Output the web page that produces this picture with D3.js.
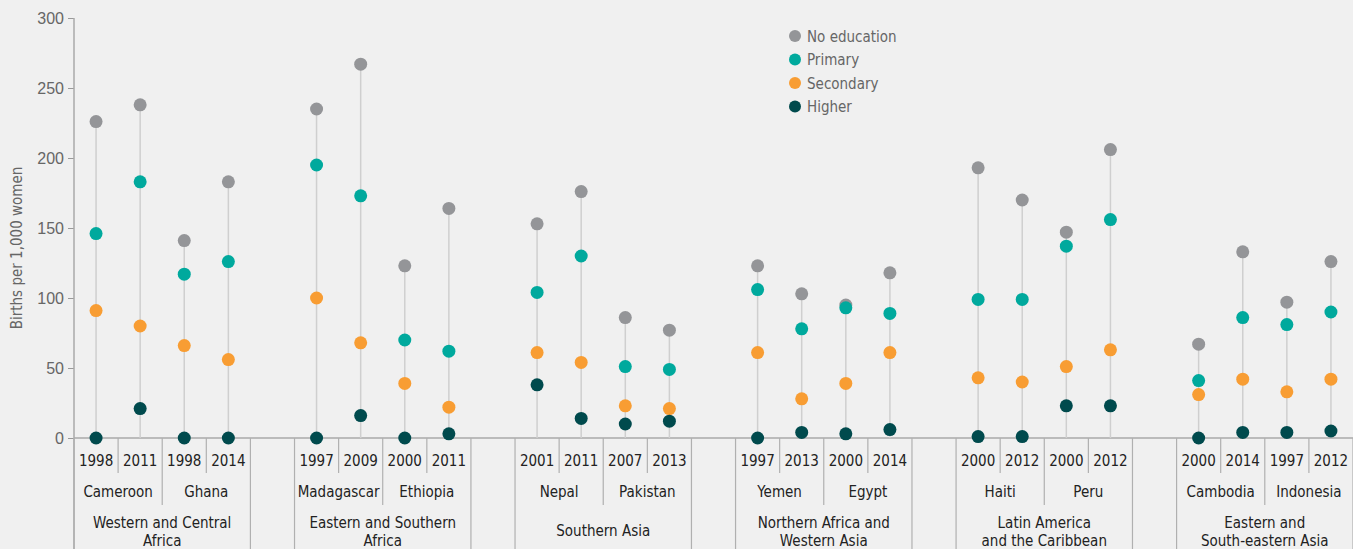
<!DOCTYPE html>
<html>
<head>
<meta charset="utf-8">
<script src="https://cdn.jsdelivr.net/npm/d3@7"></script>
<style>
  body { margin: 0; background: #f0f0f0; }
  svg { display: block; font-family: "DejaVu Sans Condensed", "Liberation Sans Narrow", "Roboto", sans-serif; }
</style>
</head>
<body>
<div id="chart"></div>
<script>
var width = 1353;
var height = 549;

// regions and the countries in each of them
var regions = ["Western and Central|Africa", "Eastern and Southern|Africa", "Southern Asia",
  "Northern Africa and|Western Asia", "Latin America|and the Caribbean", "Eastern and|South-eastern Asia"];
var countries = ["Cameroon", "Ghana", "Madagascar", "Ethiopia", "Nepal", "Pakistan",
  "Yemen", "Egypt", "Haiti", "Peru", "Cambodia", "Indonesia"];
var countryRegion = [0, 0, 1, 1, 2, 2, 3, 3, 4, 4, 5, 5];

// one survey per entry
var surveyCountry = [0, 0, 1, 1, 2, 2, 3, 3, 4, 4, 5, 5, 6, 6, 7, 7, 8, 8, 9, 9, 10, 10, 11, 11];
var surveyYear = ["1998", "2011", "1998", "2014", "1997", "2009", "2000", "2011", "2001", "2011", "2007", "2013",
  "1997", "2013", "2000", "2014", "2000", "2012", "2000", "2012", "2000", "2014", "1997", "2012"];

var noEducation = [226, 238, 141, 183, 235, 267, 123, 164, 153, 176, 86, 77,
  123, 103, 95, 118, 193, 170, 147, 206, 67, 133, 97, 126];
var primary = [146, 183, 117, 126, 195, 173, 70, 62, 104, 130, 51, 49,
  106, 78, 93, 89, 99, 99, 137, 156, 41, 86, 81, 90];
var secondary = [91, 80, 66, 56, 100, 68, 39, 22, 61, 54, 23, 21,
  61, 28, 39, 61, 43, 40, 51, 63, 31, 42, 33, 42];
var higher = [0, 21, 0, 0, 0, 16, 0, 3, 38, 14, 10, 12,
  0, 4, 3, 6, 1, 1, 23, 23, 0, 4, 4, 5];

var levels = ["No education", "Primary", "Secondary", "Higher"];
var levelValues = [noEducation, primary, secondary, higher];
var levelColors = ["#949598", "#00a99d", "#f89d33", "#004a4d"];

var yTicks = [0, 50, 100, 150, 200, 250, 300];

var margin = {top: 18, right: 0, bottom: 111, left: 74};
var plotBottom = height - margin.bottom;

// slots: four surveys per region and an empty slot between regions
var slots = [];
regions.forEach(function(r, ri) {
  surveyCountry.forEach(function(c, i) {
    if (countryRegion[c] == ri) slots.push("s" + i);
  });
  if (ri < regions.length - 1) slots.push("gap" + ri);
});

var x = d3.scaleBand().domain(slots).range([margin.left, width]).padding(0);
var y = d3.scaleLinear().domain([0, 300]).range([plotBottom, margin.top]);

var svg = d3.select("#chart").append("svg")
  .attr("width", width)
  .attr("height", height);

var surveys = surveyYear.map(function(yr, i) {
  return {
    i: i, year: yr, country: surveyCountry[i],
    values: levelValues.map(function(v) { return v[i]; })
  };
});

// y axis
var yAxis = svg.append("g")
  .attr("transform", "translate(" + margin.left + ",0)")
  .call(d3.axisLeft(y).tickValues(yTicks).tickSize(6).tickPadding(4));
yAxis.select(".domain").remove();
yAxis.selectAll(".tick line").attr("stroke", "#999");
yAxis.selectAll(".tick text").attr("fill", "#666").style("font-size", "16px");

svg.append("line")
  .attr("x1", margin.left).attr("x2", margin.left)
  .attr("y1", margin.top).attr("y2", height)
  .attr("stroke", "#aaa").attr("stroke-width", 1.5);

svg.append("text")
  .attr("transform", "translate(22," + ((margin.top + plotBottom) / 2 + 20) + ") rotate(-90)")
  .attr("text-anchor", "middle")
  .attr("fill", "#666")
  .style("font-size", "15px")
  .text("Births per 1,000 women");

// x axis line
svg.append("line")
  .attr("x1", margin.left).attr("x2", width)
  .attr("y1", plotBottom).attr("y2", plotBottom)
  .attr("stroke", "#aaa").attr("stroke-width", 1.5);

// category axis: years, countries, regions
var bw = x.bandwidth();
var axisG = svg.append("g").attr("stroke", "#b0b0b0").attr("stroke-width", 1.2);

surveys.forEach(function(d, k) {
  var x0 = x("s" + d.i);
  svg.append("text")
    .attr("x", x0 + bw / 2).attr("y", plotBottom + 28)
    .attr("text-anchor", "middle").attr("fill", "#222")
    .style("font-size", "15px")
    .text(d.year);
  // divider right of the first survey of each country
  var next = surveys[k + 1];
  if (next && next.country == d.country) {
    axisG.append("line")
      .attr("x1", x0 + bw).attr("x2", x0 + bw)
      .attr("y1", plotBottom).attr("y2", plotBottom + 35);
  }
});

countries.forEach(function(c, ci) {
  var idx = surveyCountry.map(function(s, i) { return s == ci ? i : -1; }).filter(function(i) { return i >= 0; });
  var x0 = x("s" + idx[0]);
  var x1 = x("s" + idx[idx.length - 1]) + bw;
  svg.append("text")
    .attr("x", (x0 + x1) / 2).attr("y", plotBottom + 59)
    .attr("text-anchor", "middle").attr("fill", "#222")
    .style("font-size", "15px")
    .text(c);
  var nextSame = countryRegion[ci + 1] == countryRegion[ci];
  if (nextSame) {
    axisG.append("line")
      .attr("x1", x1).attr("x2", x1)
      .attr("y1", plotBottom).attr("y2", plotBottom + 67);
  }
});

regions.forEach(function(r, ri) {
  var idx = surveyCountry.map(function(s, i) { return countryRegion[s] == ri ? i : -1; }).filter(function(i) { return i >= 0; });
  var x0 = x("s" + idx[0]);
  var x1 = x("s" + idx[idx.length - 1]) + bw;
  [x0, x1].forEach(function(xx) {
    axisG.append("line")
      .attr("x1", xx).attr("x2", xx)
      .attr("y1", plotBottom).attr("y2", height);
  });
  var lines = r.split("|");
  var t = svg.append("text")
    .attr("text-anchor", "middle").attr("fill", "#222")
    .style("font-size", "15px");
  lines.forEach(function(l, li) {
    t.append("tspan")
      .attr("x", (x0 + x1) / 2)
      .attr("y", lines.length == 1 ? plotBottom + 98 : plotBottom + 90 + li * 18)
      .text(l);
  });
});

// stems
svg.append("g").selectAll("line")
  .data(surveys)
  .join("line")
  .attr("x1", function(d) { return x("s" + d.i) + bw / 2; })
  .attr("x2", function(d) { return x("s" + d.i) + bw / 2; })
  .attr("y1", y(0))
  .attr("y2", function(d) { return y(d3.max(d.values)); })
  .attr("stroke", "#cfcfcf").attr("stroke-width", 1.5);

// dots, one group per education level
levels.forEach(function(lv, li) {
  svg.append("g").selectAll("circle")
    .data(surveys)
    .join("circle")
    .attr("cx", function(d) { return x("s" + d.i) + bw / 2; })
    .attr("cy", function(d) { return y(d.values[li]); })
    .attr("r", 6.5)
    .attr("fill", levelColors[li]);
});

// legend
var legend = svg.append("g").attr("transform", "translate(795,36)");
levels.forEach(function(lv, li) {
  var g = legend.append("g").attr("transform", "translate(0," + li * 23.5 + ")");
  g.append("circle").attr("r", 6).attr("fill", levelColors[li]);
  g.append("text").attr("x", 12).attr("y", 5.5)
    .attr("fill", "#666").style("font-size", "15px")
    .text(lv);
});
</script>
</body>
</html>
